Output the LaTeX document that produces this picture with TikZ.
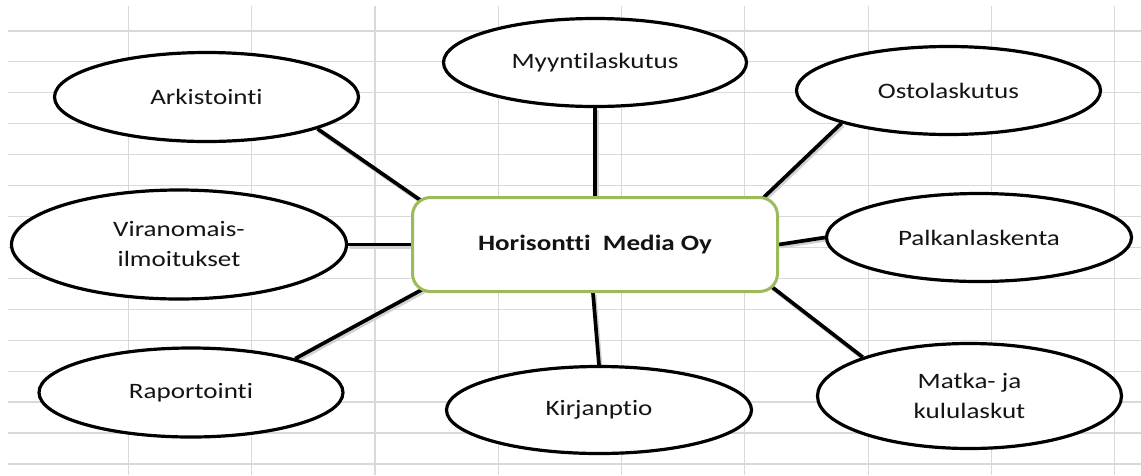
\documentclass[tikz,border=0pt]{standalone}
\usepackage{fontspec}
\setmainfont{Carlito}[Ligatures=NoCommon]
\usepackage{graphicx}
\usetikzlibrary{shapes.geometric,calc}
\pgfdeclarelayer{gridlayer}
\pgfdeclarelayer{linklayer}
\pgfsetlayers{gridlayer,linklayer,main}
\definecolor{gridgrey}{HTML}{D9D9D9}
\definecolor{hubgreen}{HTML}{9BBB59}
\definecolor{inktext}{HTML}{141414}
% text in this chart is set slightly wider than the font's natural width
\newcommand{\wideText}[1]{\scalebox{1.23}[1]{#1}}
\tikzset{
  gridline/.style={draw=gridgrey, line width=1.2pt},
  bubble/.style={ellipse, draw=black, line width=3.2pt, fill=white, inner sep=0pt,
    text=inktext, align=center, font=\fontsize{22}{30}\selectfont},
  hubbox/.style={rectangle, rounded corners=18pt, draw=hubgreen, line width=3pt,
    fill=white, minimum width=365pt, minimum height=94pt,
    font=\fontsize{22}{30}\selectfont\bfseries, text=inktext},
  link/.style={line width=3.7pt, draw=black,
    preaction={draw=black!18, line width=4pt, transform canvas={shift={(1.5pt,-2pt)}}}},
}
\begin{document}
\begin{tikzpicture}[x=1pt,y=-1pt]
\useasboundingbox (0,0) rectangle (1141,475);
% spreadsheet grid behind the chart
\begin{pgfonlayer}{gridlayer}
  \fill[white] (0,0) rectangle (1141,475);
  \foreach \k in {1,...,15}
    \draw[gridline] (8,{30.93*\k}) -- (1141,{30.93*\k});
  \foreach \k in {0,...,8}
    \draw[gridline] ({128.3+123.3*\k},6) -- ({128.3+123.3*\k},475);
\end{pgfonlayer}

% central company box
\node[hubbox] (hub) at (595,244.5) {\wideText{Horisontti\ \ Media Oy}};

% surrounding function bubbles
\node[bubble, minimum width=304pt, minimum height=89pt] (ark)   at (206.5,97)  {\wideText{Arkistointi}};
\node[bubble, minimum width=303pt, minimum height=88pt] (myy)   at (595,62.5)  {\wideText{Myyntilaskutus}};
\node[bubble, minimum width=304pt, minimum height=88pt] (osto)  at (948.5,90.5) {\wideText{Ostolaskutus}};
\node[bubble, minimum width=335pt, minimum height=109pt] (vir)  at (179,244.5) {\wideText{Viranomais-}\\\wideText{ilmoitukset}};
\node[bubble, minimum width=305pt, minimum height=88pt] (palk)  at (979,237.5) {\wideText{Palkanlaskenta}};
\node[bubble, minimum width=304pt, minimum height=89pt] (rap)   at (191,392.5) {\wideText{Raportointi}};
\node[bubble, minimum width=305pt, minimum height=87pt] (kir)   at (599,410)   {\wideText{Kirjanptio}};
\node[bubble, minimum width=304pt, minimum height=105pt] (matka) at (969.5,396) {\wideText{Matka- ja}\\\wideText{kululaskut}};

% connectors, drawn beneath the shapes so their ends tuck under the borders
\begin{pgfonlayer}{linklayer}
  \draw[link] (ark.-16)   -- ($(hub.north west)+(38,24)$);
  \draw[link] (myy.south) -- (hub.north);
  \draw[link] (osto.197)  -- ($(hub.north east)+(-39,24)$);
  \draw[link] (vir.east)  -- (hub.west);
  \draw[link] (palk.west) -- (hub.east);
  \draw[link] (rap.18)    -- ($(hub.south west)+(36,-17)$);
  \draw[link] (kir.north) -- ($(hub.south)+(-2,0)$);
  \draw[link] (matka.160) -- ($(hub.south east)+(-29,-23)$);
\end{pgfonlayer}
\end{tikzpicture}
\end{document}
